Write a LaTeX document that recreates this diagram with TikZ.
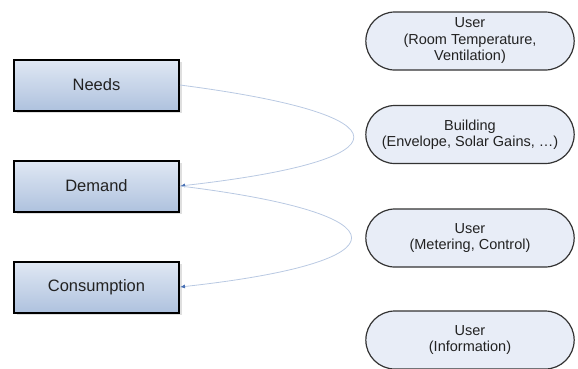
\documentclass[tikz,border=0pt]{standalone}
\usepackage{fontspec}
\setmainfont{Liberation Sans}
\usetikzlibrary{arrows.meta,positioning,shapes.misc,shadows}
\definecolor{boxtop}{HTML}{E0E8F4}
\definecolor{boxbot}{HTML}{AFC2DE}
\definecolor{pillfill}{HTML}{E8EDF7}
\definecolor{linkcol}{HTML}{B9C9E2}
\definecolor{tipcol}{HTML}{4A72B5}
\definecolor{txtcol}{HTML}{222222}
\tikzset{
  stage/.style={draw=black, line width=2pt, top color=boxtop, bottom color=boxbot, minimum width=165pt, minimum height=51pt, text=txtcol, font=\fontsize{16.5}{20}\selectfont, drop shadow={shadow xshift=2.5pt, shadow yshift=-2.5pt, opacity=.25, fill=gray}},
  actor/.style={rounded rectangle, draw=black!80, line width=1.2pt, fill=pillfill, align=center, minimum width=215pt, minimum height=58pt, text=txtcol, font=\fontsize{14.5}{16.5}\selectfont},
  link/.style={draw=linkcol, line width=.8pt, -{Latex[length=5pt,width=4pt,color=tipcol]}}
}
\begin{document}
\begin{tikzpicture}[x=1pt, y=-1pt, node distance=48pt]
\useasboundingbox (0,0) rectangle (578,368);
% left column
\node[stage] (needs) at (96.5,85) {Needs};
\node[stage, below=of needs] (demand) {Demand};
\node[stage, below=of demand] (consumption) {Consumption};
% right column
\node[actor] (user1) at (470,41) {User\\(Room Temperature,\\Ventilation)};
\node[actor] (building) at (470,134.5) {Building\\(Envelope, Solar Gains, \dots)};
\node[actor] (user2) at (470,238) {User\\(Metering, Control)};
\node[actor] (user3) at (470,340) {User\\(Information)};
% loops between the stages
\draw[link] (needs.east) .. controls +(231,30) and +(231,-26) .. (demand.east);
\draw[link] (demand.east) .. controls +(228,28) and +(228,-25) .. (consumption.east);
\end{tikzpicture}
\end{document}
